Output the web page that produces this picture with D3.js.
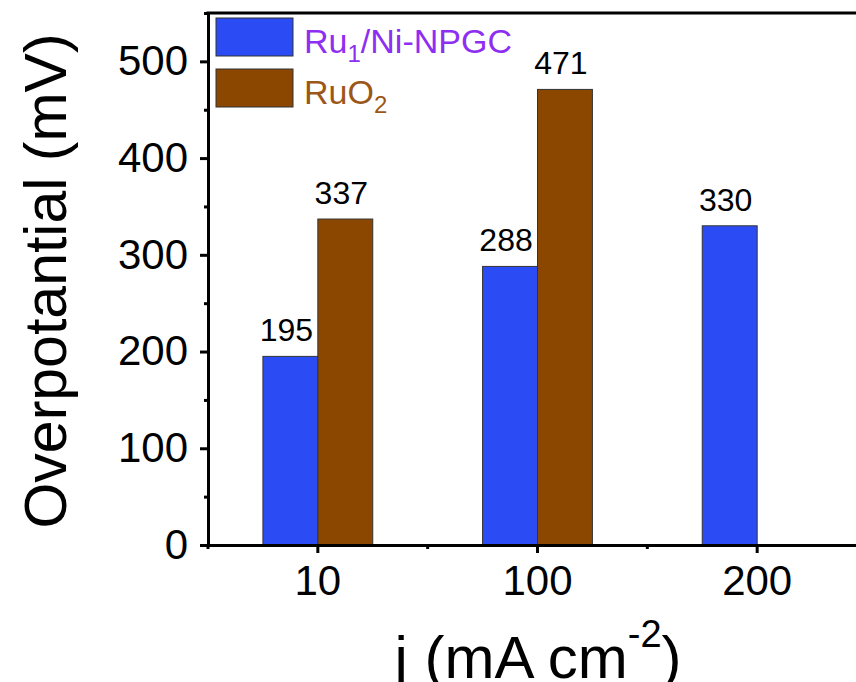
<!DOCTYPE html>
<html>
<head>
<meta charset="utf-8">
<script src="https://cdn.jsdelivr.net/npm/d3@7"></script>
<style>
  html, body { margin: 0; padding: 0; background: #fff; }
  svg { display: block; font-family: "Liberation Sans", Arial, Helvetica, sans-serif; }
</style>
</head>
<body>
<svg id="chart" width="856" height="682"></svg>
<script>
// Current densities (mA cm^-2) on the x axis
const categories = ["10", "100", "200"];
// Overpotential values (mV) for each catalyst
const ruNiValues = [195, 288, 330];
const ruO2Values = [337, 471, null];
const yMajorTicks = [0, 100, 200, 300, 400, 500];
const yMinorTicks = [50, 150, 250, 350, 450, 550];

const colors = { ruNi: "#2b4cf5", ruO2: "#8b4700" };
const textColors = { ruNi: "#8e2ef0", ruO2: "#9c5718" };

const svg = d3.select("#chart");
const plotLeft = 208, plotRight = 867, plotTop = 13, plotBottom = 545;

const x = d3.scaleBand().domain(categories).range([plotLeft, plotRight]).paddingInner(0).paddingOuter(0);
const y = d3.scaleLinear().domain([0, 550]).range([plotBottom, plotTop]);
const bw = x.bandwidth() * 0.25;

// Bars
const rows = categories.map((c, i) => ({ c, ruNi: ruNiValues[i], ruO2: ruO2Values[i] }));
const g = svg.append("g");

const bars = [];
rows.forEach(r => {
  const cx = x(r.c) + x.bandwidth() / 2;
  if (r.ruNi != null) bars.push({ x0: cx - bw, v: r.ruNi, fill: colors.ruNi });
  if (r.ruO2 != null) bars.push({ x0: cx, v: r.ruO2, fill: colors.ruO2 });
});

g.selectAll("rect.bar").data(bars).join("rect")
  .attr("class", "bar")
  .attr("x", d => d.x0)
  .attr("y", d => y(d.v))
  .attr("width", bw)
  .attr("height", d => y(0) - y(d.v))
  .attr("fill", d => d.fill)
  .attr("stroke", "#333")
  .attr("stroke-width", 1);

g.selectAll("text.val").data(bars).join("text")
  .attr("class", "val")
  .attr("x", d => d.x0 + bw / 2 - 4)
  .attr("y", d => y(d.v) - 15)
  .attr("text-anchor", "middle")
  .attr("font-size", 32)
  .attr("fill", "#000")
  .text(d => d.v);

// Axes
const axisStyle = sel => {
  sel.select(".domain").attr("stroke", "#000").attr("stroke-width", 3);
  sel.selectAll(".tick line").attr("stroke", "#000").attr("stroke-width", 3);
};

const yAxis = svg.append("g").attr("transform", `translate(${plotLeft},0)`)
  .call(d3.axisLeft(y).tickValues(yMajorTicks).tickSize(8).tickSizeOuter(0).tickPadding(12));
axisStyle(yAxis);
yAxis.selectAll(".tick text").attr("font-size", 42).attr("fill", "#000")
  .attr("font-family", "'Liberation Sans', Arial, sans-serif");

const yMinor = svg.append("g").attr("transform", `translate(${plotLeft},0)`)
  .call(d3.axisLeft(y).tickValues(yMinorTicks).tickSize(4).tickFormat(""));
yMinor.select(".domain").remove();
yMinor.selectAll(".tick line").attr("stroke", "#000").attr("stroke-width", 3);

const xAxis = svg.append("g").attr("transform", `translate(0,${plotBottom})`)
  .call(d3.axisBottom(x).tickSize(8).tickSizeOuter(0).tickPadding(12));
axisStyle(xAxis);
xAxis.selectAll(".tick text").attr("font-size", 42).attr("fill", "#000")
  .attr("font-family", "'Liberation Sans', Arial, sans-serif");

// Minor x ticks at the band boundaries
const xMinorPos = categories.map(c => x(c)).concat([x(categories[categories.length - 1]) + x.bandwidth()]);
svg.append("g").selectAll("line").data(xMinorPos).join("line")
  .attr("x1", d => d).attr("x2", d => d)
  .attr("y1", plotBottom).attr("y2", plotBottom + 4)
  .attr("stroke", "#000").attr("stroke-width", 3);

// Top frame line
svg.append("line")
  .attr("x1", plotLeft - 1.5).attr("x2", plotRight)
  .attr("y1", plotTop).attr("y2", plotTop)
  .attr("stroke", "#000").attr("stroke-width", 3);

// Axis titles
svg.append("text")
  .attr("transform", `translate(66,${(plotTop + plotBottom) / 2 + 2}) rotate(-90)`)
  .attr("text-anchor", "middle")
  .attr("font-size", 59)
  .attr("fill", "#000")
  .text("Overpotantial (mV)");

const xt = svg.append("text")
  .attr("x", 538).attr("y", 678)
  .attr("text-anchor", "middle")
  .attr("font-size", 60)
  .attr("fill", "#000");
xt.append("tspan").text("j (mA cm");
xt.append("tspan").attr("font-size", 38).attr("dy", -31).text("-2");
xt.append("tspan").attr("dy", 31).text(")");

// Legend
const legend = [
  { name: "Ru", sub: "1", rest: "/Ni-NPGC", fill: colors.ruNi, color: textColors.ruNi },
  { name: "RuO", sub: "2", rest: "", fill: colors.ruO2, color: textColors.ruO2 }
];
const lg = svg.append("g");
legend.forEach((d, i) => {
  const yy = 18 + i * 51;
  lg.append("rect")
    .attr("x", 216).attr("y", yy).attr("width", 77).attr("height", 38)
    .attr("fill", d.fill).attr("stroke", "#333").attr("stroke-width", 1);
  const t = lg.append("text")
    .attr("x", 304).attr("y", yy + 35)
    .attr("font-size", 34).attr("fill", d.color);
  t.append("tspan").text(d.name);
  t.append("tspan").attr("font-size", 24).attr("dy", 9).text(d.sub);
  if (d.rest) t.append("tspan").attr("dy", -9).text(d.rest);
});
</script>
</body>
</html>
